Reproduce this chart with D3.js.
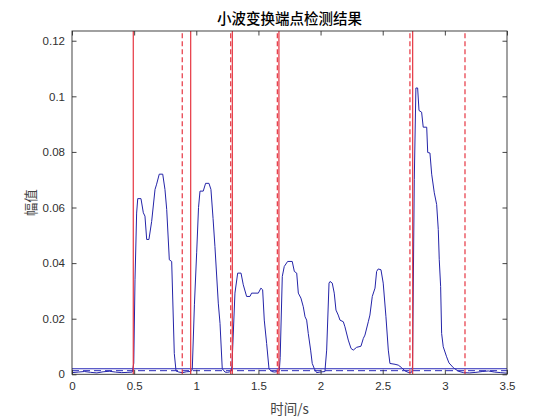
<!DOCTYPE html>
<html><head><meta charset="utf-8">
<script src="https://cdn.jsdelivr.net/npm/d3@7/dist/d3.min.js"></script>
<style>body{margin:0;background:#fff}svg{display:block}</style>
</head><body><svg id="c" width="560" height="420"></svg>
<script>
const times = [0,0.05,0.1,0.15,0.2,0.25,0.3,0.35,0.4,0.45,0.485,
0.497,0.507,0.52,0.529,0.555,0.574,0.587,0.601,0.619,0.641,0.668,0.681,0.702,0.730,0.748,0.762,0.783,0.802,0.823,0.837,0.86,0.89,0.92,0.95,0.962,
0.968,0.985,1.003,1.018,1.030,1.056,1.075,1.102,1.118,1.135,1.150,1.177,1.191,1.209,1.231,1.25,1.27,1.281,
1.287,1.311,1.333,1.360,1.378,1.405,1.432,1.445,1.499,1.520,1.534,1.547,1.566,1.585,1.607,1.63,1.655,1.668,
1.675,1.692,1.708,1.735,1.772,1.789,1.808,1.821,1.842,1.861,1.875,1.888,1.901,1.920,1.933,1.950,1.968,1.995,2.035,2.049,2.068,2.076,2.094,2.110,2.124,2.142,2.156,2.183,2.196,2.223,2.245,2.263,2.290,2.325,2.344,2.357,2.384,2.397,2.416,2.438,2.451,2.464,2.486,2.504,2.526,2.545,2.558,2.599,2.625,2.652,2.68,2.71,2.735,
2.740,2.754,2.767,2.781,2.792,2.813,2.826,2.854,2.862,2.880,2.894,2.915,2.934,2.947,2.955,2.966,2.974,2.987,3.014,3.033,3.068,3.108,3.15,3.2,3.25,3.3,3.35,3.4,3.45,3.5];
const amps = [0.0006,0.0008,0.0010,0.0007,0.0005,0.0009,0.0011,0.0008,0.0006,0.0007,0.0008,
0.004,0.034,0.058,0.0632,0.0632,0.0581,0.0569,0.0485,0.0485,0.0550,0.0665,0.0684,0.0720,0.0720,0.0665,0.0593,0.0412,0.0406,0.0075,0.0012,0.0008,0.0006,0.0009,0.0010,0.0012,
0.002,0.025,0.0437,0.060,0.0659,0.0659,0.0687,0.0687,0.0665,0.056,0.046,0.0256,0.0183,0.002,0.0008,0.0007,0.0009,0.0012,
0.003,0.0292,0.0364,0.0364,0.0322,0.0280,0.0280,0.0292,0.0292,0.0310,0.0304,0.0195,0.0111,0.0020,0.0010,0.0008,0.0010,0.0013,
0.006,0.0352,0.0388,0.0406,0.0406,0.0370,0.0364,0.0292,0.0274,0.0243,0.0207,0.0195,0.0147,0.0087,0.0039,0.0020,0.0006,0.0008,0.0010,0.0087,0.0328,0.0334,0.0328,0.0292,0.0231,0.0213,0.0195,0.0189,0.0171,0.0123,0.0093,0.0087,0.0097,0.0101,0.0129,0.0141,0.0189,0.0213,0.0280,0.0310,0.0370,0.0379,0.0376,0.0328,0.0207,0.0087,0.0039,0.0036,0.0033,0.0024,0.0012,0.0006,0.0008,
0.003,0.0701,0.1030,0.1030,0.0949,0.0943,0.0889,0.0889,0.0798,0.0796,0.0720,0.0653,0.0611,0.0521,0.0412,0.0316,0.0147,0.0099,0.0063,0.0041,0.0024,0.0011,0.0006,0.0005,0.0007,0.0010,0.0012,0.0008,0.0006,0.0004];
const startPoints = [0.493, 0.955, 1.290, 1.665, 2.741];
const endPoints = [0.887, 1.277, 1.652, 2.719, 3.162];
const thresholdHigh = 0.0020;
const thresholdLow = 0.0013;
const xTicks = [0,0.5,1,1.5,2,2.5,3,3.5];
const xTickLabels = ["0","0.5","1","1.5","2","2.5","3","3.5"];
const yTicks = [0,0.02,0.04,0.06,0.08,0.1,0.12];
const yTickLabels = ["0","0.02","0.04","0.06","0.08","0.1","0.12"];
const xDomain = [0,3.5], yDomain = [0,0.1235];

const svg = d3.select("#c");
const L=72, R=507, T=31, B=374.3;
const x = d3.scaleLinear().domain(xDomain).range([L,R]);
const y = d3.scaleLinear().domain(yDomain).range([B,T]);
const tickCol="#303030", font="Helvetica, Arial, 'Liberation Sans', sans-serif";

svg.append("clipPath").attr("id","pc").append("rect").attr("x",L).attr("y",T).attr("width",R-L).attr("height",B-T);
const g = svg.append("g").attr("clip-path","url(#pc)");

const pts = times.map((t,i)=>[t,amps[i]]);
g.append("path").datum(pts).attr("fill","none").attr("stroke","#2424a8").attr("stroke-width",1)
 .attr("d", d3.line().x(d=>x(d[0])).y(d=>y(d[1])));

g.append("line").attr("x1",x(0)).attr("x2",x(3.5)).attr("y1",y(thresholdHigh)).attr("y2",y(thresholdHigh))
 .attr("stroke","#2a2ab8").attr("stroke-width",1);
g.append("line").attr("x1",x(0)).attr("x2",x(3.5)).attr("y1",y(thresholdLow)).attr("y2",y(thresholdLow))
 .attr("stroke","#2a2ab8").attr("stroke-width",1).attr("stroke-dasharray","7,4");

const redCol="#e63440";
g.selectAll(".s").data(startPoints).enter().append("line")
 .attr("x1",d=>x(d)).attr("x2",d=>x(d)).attr("y1",y(yDomain[0])).attr("y2",y(yDomain[1]))
 .attr("stroke",redCol).attr("stroke-width",1.2);
g.selectAll(".e").data(endPoints).enter().append("line")
 .attr("x1",d=>x(d)).attr("x2",d=>x(d)).attr("y1",y(yDomain[0])).attr("y2",y(yDomain[1]))
 .attr("stroke",redCol).attr("stroke-width",1.2).attr("stroke-dasharray","5,3");

const tl=4.5;
const ax = svg.append("g").attr("transform",`translate(0,${B})`).call(d3.axisBottom(x).tickValues(xTicks).tickFormat((d,i)=>xTickLabels[i]).tickSizeInner(-tl).tickSizeOuter(0).tickPadding(8));
const axT = svg.append("g").attr("transform",`translate(0,${T})`).call(d3.axisTop(x).tickValues(xTicks).tickFormat("").tickSizeInner(-tl).tickSizeOuter(0));
const ay = svg.append("g").attr("transform",`translate(${L},0)`).call(d3.axisLeft(y).tickValues(yTicks).tickFormat((d,i)=>yTickLabels[i]).tickSizeInner(-tl).tickSizeOuter(0).tickPadding(7));
const ayR = svg.append("g").attr("transform",`translate(${R},0)`).call(d3.axisRight(y).tickValues(yTicks).tickFormat("").tickSizeInner(-tl).tickSizeOuter(0));
[ax,axT,ay,ayR].forEach(a=>{a.selectAll("line").attr("stroke",tickCol).attr("stroke-width",0.9);
 a.selectAll("path").remove();
 a.selectAll("text").attr("fill",tickCol).style("font-family",font).style("font-size","11.5px");});
svg.append("rect").attr("x",L).attr("y",T).attr("width",R-L).attr("height",B-T).attr("fill","none").attr("stroke",tickCol).attr("stroke-width",0.9);

const cjk="'Noto Sans CJK SC', sans-serif";
svg.append("text").attr("x",(L+R)/2).attr("y",24).attr("text-anchor","middle").attr("fill","#000")
 .style("font-family",cjk).style("font-size","14.5px").style("font-weight","500").text("小波变换端点检测结果");
svg.append("text").attr("x",(L+R)/2).attr("y",414).attr("text-anchor","middle").attr("fill","#444")
 .style("font-family",cjk).style("font-size","13.5px").text("时间/s");
svg.append("text").attr("transform",`translate(36,${(T+B)/2}) rotate(-90)`).attr("text-anchor","middle").attr("fill","#444")
 .style("font-family",cjk).style("font-size","13.5px").text("幅值");
</script></body></html>
